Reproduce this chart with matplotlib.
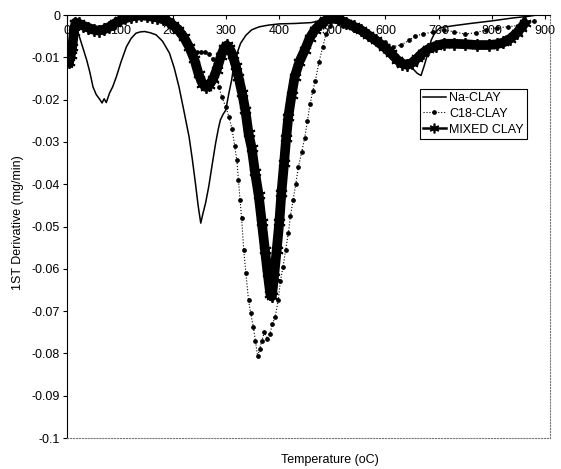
import matplotlib
matplotlib.use('Agg')
import matplotlib.pyplot as plt
from matplotlib.lines import Line2D

plt.rcParams['font.family'] = ['Liberation Sans', 'DejaVu Sans']

# Na-CLAY (solid thin line)
na_t = [14, 18, 25, 32, 37, 43, 49, 55, 62, 66, 70, 74, 80, 86, 93, 102, 112, 121, 130,
        138, 146, 157, 168, 180, 193, 202, 211, 220, 230, 236, 242, 247, 252, 256, 261,
        267, 274, 280, 285, 289, 294, 299, 305, 310, 314, 320, 327, 337, 348, 362, 379,
        400, 430, 460, 490, 520, 550, 580, 610, 635, 650, 660, 667, 673, 680, 686, 693,
        703, 730, 760, 800, 840, 870, 885]
na_y = [-0.0010, -0.0030, -0.0058, -0.0086, -0.0106, -0.0135, -0.0170, -0.0188, -0.0200,
        -0.0208, -0.0198, -0.0207, -0.0185, -0.0170, -0.0146, -0.0110, -0.0075, -0.0055,
        -0.0043, -0.0040, -0.0039, -0.0042, -0.0047, -0.0062, -0.0090, -0.0125, -0.0170,
        -0.0225, -0.0288, -0.0340, -0.0398, -0.0450, -0.0492, -0.0470, -0.0445, -0.0406,
        -0.0350, -0.0303, -0.0270, -0.0248, -0.0235, -0.0225, -0.0185, -0.0155, -0.0122,
        -0.0092, -0.0067, -0.0048, -0.0035, -0.0028, -0.0024, -0.0021, -0.0020, -0.0018,
        -0.0010, -0.0015, -0.0035, -0.0058, -0.0088, -0.0112, -0.0125, -0.0138, -0.0143,
        -0.0120, -0.0090, -0.0060, -0.0042, -0.0030, -0.0025, -0.0020, -0.0014, -0.0007,
        -0.0003, 0.0]

# C18-CLAY (dotted line with small dots)
c18_t = [3, 8, 14, 22, 35, 50, 65, 80, 100, 120, 140, 160, 180, 200, 215, 228, 238, 245,
         252, 260, 268, 275, 281, 286, 292, 299, 305, 311, 316, 320, 323, 326, 329, 333,
         337, 342, 346, 351, 355, 359, 363, 367, 372, 377, 382, 387, 392, 398, 402, 407,
         412, 417, 421, 426, 431, 436, 442, 448, 453, 458, 463, 468, 475, 482, 488, 495,
         505, 520, 540, 560, 580, 600, 615, 630, 645, 655, 670, 690, 710, 730, 750, 770,
         790, 810, 830, 850, 865, 880]
c18_y = [-0.0090, -0.0060, -0.0030, -0.0025, -0.0030, -0.0035, -0.0035, -0.0028, -0.0015,
         -0.0006, -0.0003, -0.0005, -0.0012, -0.0028, -0.0045, -0.0065, -0.0082, -0.0087,
         -0.0088, -0.0088, -0.0093, -0.0105, -0.0130, -0.0170, -0.0195, -0.0217, -0.0240,
         -0.0270, -0.0310, -0.0343, -0.0390, -0.0437, -0.0480, -0.0556, -0.0610, -0.0674,
         -0.0705, -0.0737, -0.0770, -0.0806, -0.0790, -0.0770, -0.0750, -0.0765, -0.0755,
         -0.0730, -0.0715, -0.0674, -0.0630, -0.0595, -0.0555, -0.0516, -0.0475, -0.0437,
         -0.0400, -0.0359, -0.0325, -0.0290, -0.0250, -0.0210, -0.0180, -0.0155, -0.0110,
         -0.0075, -0.0045, -0.0025, -0.0015, -0.0025, -0.0035, -0.0045, -0.0055, -0.0065,
         -0.0075, -0.0070, -0.0060, -0.0050, -0.0045, -0.0040, -0.0035, -0.0040, -0.0045,
         -0.0042, -0.0035, -0.0030, -0.0028, -0.0025, -0.0020, -0.0015]

# MIXED CLAY (thick line with star markers)
mix_t = [4, 7, 10, 13, 16, 22, 30, 40, 50, 60, 70, 80, 90, 100, 110, 120, 130, 140, 150,
         160, 170, 180, 190, 200, 210, 220, 230, 240, 248, 255, 261, 268, 275, 282, 290,
         296, 301, 306, 312, 318, 323, 330, 336, 342, 348, 354, 361, 367, 373, 378, 383,
         386, 390, 395, 400, 404, 409, 413, 417, 423, 429, 438, 448, 457, 467, 477, 487,
         497, 510, 525, 540, 553, 567, 582, 597, 610, 622, 632, 641, 650, 660, 670, 680,
         695, 710, 730, 750, 772, 795, 810, 822, 835, 847, 856, 862]
mix_y = [-0.0112, -0.0095, -0.0075, -0.0040, -0.0018, -0.0020, -0.0025, -0.0030, -0.0035,
         -0.0037, -0.0034, -0.0028, -0.0020, -0.0013, -0.0008, -0.0004, -0.0002, -0.0001,
         -0.0002, -0.0004, -0.0006, -0.0010, -0.0015, -0.0024, -0.0036, -0.0052, -0.0075,
         -0.0105, -0.0140, -0.0162, -0.0170, -0.0165, -0.0152, -0.0130, -0.0097, -0.0078,
         -0.0072, -0.0078, -0.0095, -0.0120, -0.0146, -0.0185, -0.0225, -0.0280, -0.0315,
         -0.0370, -0.0425, -0.0490, -0.0556, -0.0610, -0.0660, -0.0665, -0.0620, -0.0556,
         -0.0490, -0.0420, -0.0350, -0.0290, -0.0240, -0.0190, -0.0146, -0.0110, -0.0083,
         -0.0055, -0.0035, -0.0022, -0.0013, -0.0007, -0.0010, -0.0018, -0.0027, -0.0035,
         -0.0047, -0.0060, -0.0075, -0.0090, -0.0106, -0.0115, -0.0118, -0.0113, -0.0102,
         -0.0090, -0.0081, -0.0073, -0.0068, -0.0068, -0.0069, -0.0071, -0.0071, -0.0069,
         -0.0065, -0.0056, -0.0043, -0.0030, -0.0020]

y_ticks = [0, -0.01, -0.02, -0.03, -0.04, -0.05, -0.06, -0.07, -0.08, -0.09, -0.1]
y_labels = ['0', '-0.01', '-0.02', '-0.03', '-0.04', '-0.05', '-0.06', '-0.07', '-0.08',
            '-0.09', '-0.1']
x_ticks = [0, 100, 200, 300, 400, 500, 600, 700, 800, 900]

fig = plt.figure(figsize=(5.61, 4.69), dpi=100)
ax = fig.add_axes([67/561, 1 - 438/469, (550 - 67)/561, (438 - 15)/469])

STAR = (6, 2, 0)
ax.plot(mix_t, mix_y, color='black', lw=7, marker=STAR, ms=9, mew=1.3, zorder=3)
ax.plot(c18_t, c18_y, color='black', lw=0.8, ls=':', marker='o', ms=2.4, zorder=4)
ax.plot(na_t, na_y, color='black', lw=1.1, zorder=5)

ax.set_xlim(0, 910)
ax.set_ylim(-0.1, 0)
ax.set_xticks(x_ticks)
ax.set_yticks(y_ticks)
ax.set_yticklabels(y_labels)

# x axis crosses at y = 0 (top of the plot), labels sit just under it
ax.spines['bottom'].set_position(('data', 0))
ax.spines['bottom'].set_zorder(6)
ax.spines['top'].set_position(('data', -0.1))
ax.spines['top'].set_linestyle(':')
ax.spines['top'].set_color('#777777')
ax.spines['right'].set_linestyle(':')
ax.spines['right'].set_color('#777777')
ax.tick_params(axis='x', direction='out', length=3, pad=4, labelsize=9, width=0.8)
ax.tick_params(axis='y', direction='out', length=3, pad=2, labelsize=9, width=0.8)

fig.text(18.5/561, 1 - 223/469, '1ST Derivative (mg/min)', rotation=90,
         ha='center', va='center', fontsize=9)
fig.text(330/561, 1 - 460/469, 'Temperature (oC)', ha='center', va='center', fontsize=9)

handles = [Line2D([], [], color='black', lw=1.1),
           Line2D([], [], color='black', lw=0.8, ls=':', marker='o', ms=2.4),
           Line2D([], [], color='black', lw=1.8, marker=STAR, ms=7, mew=1.2)]
leg = ax.legend(handles, ['Na-CLAY', 'C18-CLAY', 'MIXED CLAY'], loc='upper left',
                bbox_to_anchor=((420 - 67)/483, 1 - (89 - 15)/423), fontsize=9,
                frameon=True, fancybox=False, edgecolor='black', framealpha=1,
                handlelength=1.8, handletextpad=0.3, borderpad=0.25, labelspacing=0.3,
                borderaxespad=0)
leg.get_frame().set_linewidth(0.8)

fig.savefig('out.png', dpi=100, facecolor='white')
